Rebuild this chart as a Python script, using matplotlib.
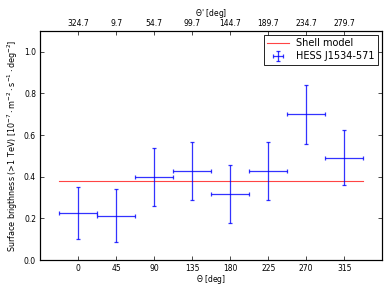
import numpy as np
import matplotlib
matplotlib.use('Agg')
import matplotlib.pyplot as plt

# azimuthal profile of HESS J1534-571
theta = [0, 45, 90, 135, 180, 225, 270, 315]
brightness = [0.226, 0.213, 0.398, 0.427, 0.316, 0.428, 0.700, 0.490]
err_low = [0.123, 0.128, 0.139, 0.139, 0.140, 0.139, 0.144, 0.131]
err_high = [0.125, 0.128, 0.139, 0.142, 0.139, 0.139, 0.140, 0.132]
bin_half_width = 22.5
shell_level = 0.382
theta_prime_labels = ['324.7', '9.7', '54.7', '99.7', '144.7', '189.7', '234.7', '279.7']

plt.rcParams['font.size'] = 5.5
plt.rcParams['font.family'] = 'DejaVu Sans'

fig = plt.figure(figsize=(3.9, 2.93), dpi=100)
ax = fig.add_axes([0.103, 0.112, 0.877, 0.783])

ax.plot([theta[0] - bin_half_width, theta[-1] + bin_half_width],
        [shell_level, shell_level], color='#ff3030', lw=0.8, alpha=0.9,
        label='Shell model')
ax.errorbar(theta, brightness, yerr=[err_low, err_high],
            xerr=bin_half_width, fmt='none', ecolor='blue', elinewidth=0.9,
            capsize=1.5, capthick=0.9, alpha=0.8, label='HESS J1534-571')

ax.set_xlim(-45, 360)
ax.set_ylim(0, 1.1)
ax.set_xticks(theta)
ax.set_yticks(np.arange(0, 1.01, 0.2))
ax.set_xlabel(r'$\Theta$ [deg]', labelpad=0)
ax.set_ylabel(r'Surface brigthness (>1 TeV) [10$^{-7}\cdot$m$^{-2}\cdot$s$^{-1}\cdot$deg$^{-2}$]',
              labelpad=3, fontsize=5.8)
ax.tick_params(direction='in', length=3, width=0.5, pad=3, right=True)

top = ax.twiny()
top.set_xlim(ax.get_xlim())
top.set_xticks(theta)
top.set_xticklabels(theta_prime_labels)
top.set_xlabel(r"$\Theta$' [deg]", labelpad=2)
top.tick_params(direction='in', length=3, width=0.5, pad=2)

for a in (ax, top):
    for s in a.spines.values():
        s.set_linewidth(0.8)

leg = ax.legend(loc='upper right', fontsize=7, fancybox=False,
                edgecolor='black', framealpha=1, handlelength=2.2,
                borderaxespad=0.4, borderpad=0.35, labelspacing=0.35)
leg.get_frame().set_linewidth(0.6)

fig.savefig('out.png', dpi=100)
